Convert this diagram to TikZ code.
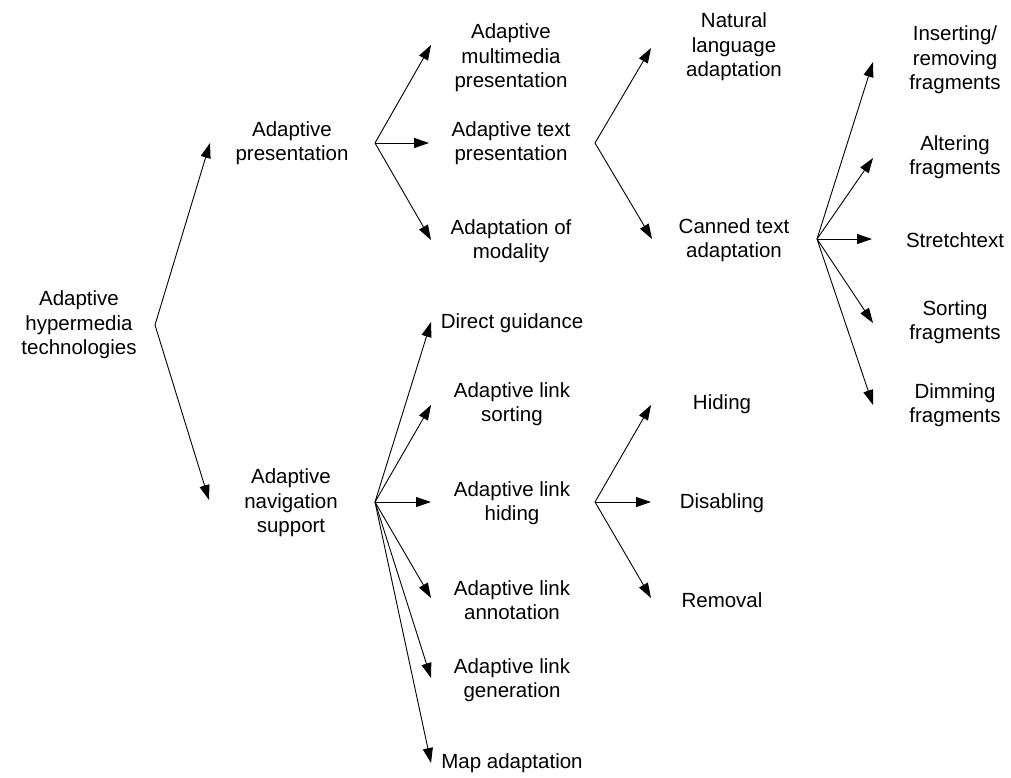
\documentclass[tikz,border=0pt]{standalone}
\usepackage{fontspec}
\setmainfont{Liberation Sans}
\usetikzlibrary{arrows.meta}
\begin{document}
\begin{tikzpicture}[x=1pt,y=-1pt,
  label/.style={align=center,inner sep=0pt,font=\fontsize{20.5}{24.5}\selectfont},
  link/.style={line width=0.9pt,-{Triangle[length=15pt,width=10pt]}}]
\path[use as bounding box] (0,0) rectangle (1011,777);

% taxonomy labels
\node[label] (root) at (79,325) {Adaptive\\hypermedia\\technologies};
\node[label] (ap)   at (292,143) {Adaptive\\presentation};
\node[label] (ans)  at (291,503) {Adaptive\\navigation\\support};

\node[label] (amp)  at (511,58)  {Adaptive\\multimedia\\presentation};
\node[label] (atp)  at (511,143) {Adaptive text\\presentation};
\node[label] (aom)  at (511,241) {Adaptation of\\modality};

\node[label] (nla)  at (734,47)  {Natural\\language\\adaptation};
\node[label] (cta)  at (734,240) {Canned text\\adaptation};

\node[label] (irf)  at (955,60)  {Inserting/\\removing\\fragments};
\node[label] (af)   at (955,157) {Altering\\fragments};
\node[label] (st)   at (955,240) {Stretchtext};
\node[label] (sf)   at (955,322) {Sorting\\fragments};
\node[label] (df)   at (955,405) {Dimming\\fragments};

\node[label] (dg)   at (512,323) {Direct guidance};
\node[label] (als)  at (512,404) {Adaptive link\\sorting};
\node[label] (alh)  at (512,503) {Adaptive link\\hiding};
\node[label] (ala)  at (512,600) {Adaptive link\\annotation};
\node[label] (alg)  at (512,680) {Adaptive link\\generation};
\node[label] (ma)   at (512,763) {Map adaptation};

\node[label] (hid)  at (722,404) {Hiding};
\node[label] (dis)  at (722,503) {Disabling};
\node[label] (rem)  at (722,600) {Removal};

% branch points
\coordinate (b0) at (155,325);
\coordinate (b1) at (375,143);
\coordinate (b2) at (595,143);
\coordinate (b3) at (817,239);
\coordinate (b4) at (375,502);
\coordinate (b5) at (595,502);

% arrow tips beside each label
\coordinate (t-ap)  at (210,143);
\coordinate (t-ans) at (209,500);
\coordinate (t-amp) at (431,45);
\coordinate (t-atp) at (429,143);
\coordinate (t-aom) at (431,240);
\coordinate (t-nla) at (651,48);
\coordinate (t-cta) at (652,239);
\coordinate (t-irf) at (873,62);
\coordinate (t-af)  at (873,158);
\coordinate (t-st)  at (872,239);
\coordinate (t-sf)  at (873,323);
\coordinate (t-df)  at (873,405);
\coordinate (t-dg)  at (431,322);
\coordinate (t-als) at (431,405);
\coordinate (t-alh) at (431,502);
\coordinate (t-ala) at (431,598);
\coordinate (t-alg) at (431,678);
\coordinate (t-ma)  at (431,763);
\coordinate (t-hid) at (651,405);
\coordinate (t-dis) at (651,502);
\coordinate (t-rem) at (651,598);

% connectors
\foreach \t in {ap,ans} \draw[link] (b0) -- (t-\t);
\foreach \t in {amp,atp,aom} \draw[link] (b1) -- (t-\t);
\foreach \t in {nla,cta} \draw[link] (b2) -- (t-\t);
\foreach \t in {irf,af,st,sf,df} \draw[link] (b3) -- (t-\t);
\foreach \t in {dg,als,alh,ala,alg,ma} \draw[link] (b4) -- (t-\t);
\foreach \t in {hid,dis,rem} \draw[link] (b5) -- (t-\t);
\end{tikzpicture}
\end{document}
